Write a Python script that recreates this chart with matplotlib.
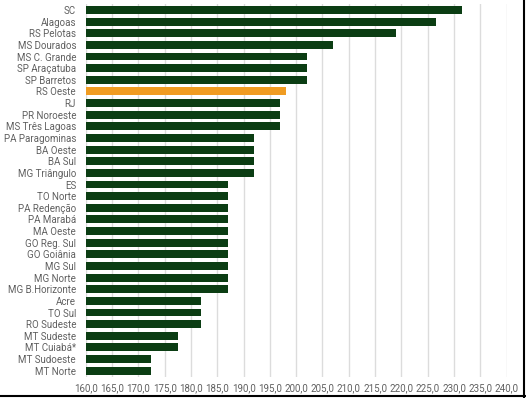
import numpy as np
import matplotlib.pyplot as plt
from matplotlib.lines import Line2D

plt.rcParams.update({'font.family': ['Roboto', 'DejaVu Sans'], 'font.size': 7})

regions = ['SC', 'Alagoas', 'RS Pelotas', 'MS Dourados', 'MS C. Grande',
           'SP Araçatuba', 'SP Barretos', 'RS Oeste', 'RJ', 'PR Noroeste',
           'MS Três Lagoas', 'PA Paragominas', 'BA Oeste', 'BA Sul',
           'MG Triângulo', 'ES', 'TO Norte', 'PA Redenção', 'PA Marabá',
           'MA Oeste', 'GO Reg. Sul', 'GO Goiânia', 'MG Sul', 'MG Norte',
           'MG B.Horizonte', 'Acre', 'TO Sul', 'RO Sudeste', 'MT Sudeste',
           'MT Cuiabá*', 'MT Sudoeste', 'MT Norte']
values = [231.5, 226.5, 219.0, 207.0, 202.0,
          202.0, 202.0, 198.0, 197.0, 197.0,
          197.0, 192.0, 192.0, 192.0,
          192.0, 187.0, 187.0, 187.0, 187.0,
          187.0, 187.0, 187.0, 187.0, 187.0,
          187.0, 182.0, 182.0, 182.0, 177.5,
          177.5, 172.5, 172.5]
highlight = 'RS Oeste'

green = '#0b3d13'
orange = '#f09c22'
colors = [orange if r == highlight else green for r in regions]

fig = plt.figure(figsize=(5.26, 3.98), dpi=100)
ax = fig.add_axes([0.163, 0.054, 0.800, 0.9355])

y = np.arange(len(regions))
ax.barh(y, np.array(values) - 160, left=160, height=0.68, color=colors, zorder=2)

ax.set_xlim(160, 240)
ax.set_ylim(len(regions) - 0.5, -0.5)
ticks = np.arange(160, 241, 5)
ax.set_xticks(ticks)
ax.set_xticklabels(['{:.1f}'.format(t).replace('.', ',') for t in ticks])
ax.set_yticks(y)
ax.set_yticklabels(regions)
ax.tick_params(axis='both', length=0, colors='#606060', labelsize=7)
ax.tick_params(axis='y', pad=7)
ax.tick_params(axis='x', pad=4.5)
ax.grid(axis='x', color='#dcdcdc', linewidth=1, zorder=0)
for s in ax.spines.values():
    s.set_visible(False)

# screenshot frame on right and bottom
fig.add_artist(Line2D([0.9962, 0.9962], [0, 1], color='black', linewidth=1.5,
                      transform=fig.transFigure))
fig.add_artist(Line2D([0, 1], [0.0038, 0.0038], color='black', linewidth=1.5,
                      transform=fig.transFigure))

fig.savefig('out.png', dpi=100)
